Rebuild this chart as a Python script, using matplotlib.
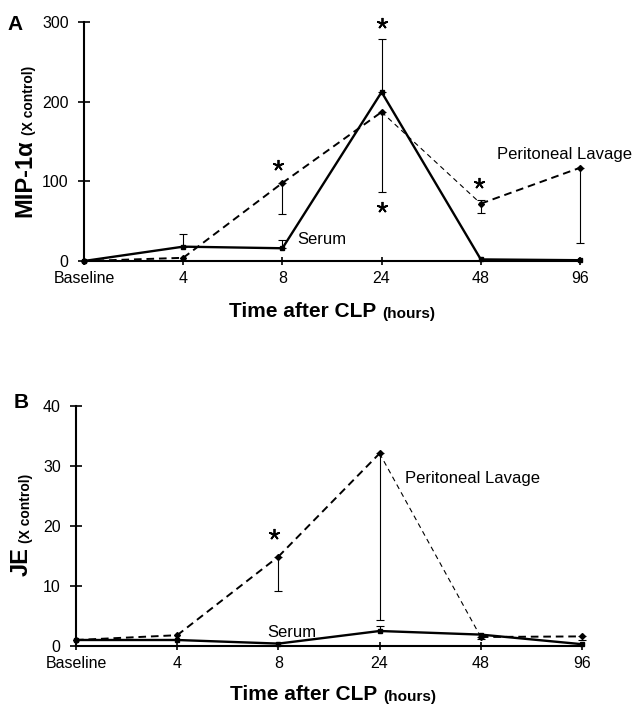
import numpy as np
import matplotlib
matplotlib.use("Agg")
import matplotlib.pyplot as plt

plt.rcParams["font.family"] = ["Liberation Sans", "DejaVu Sans"]
plt.rcParams["lines.scale_dashes"] = False

# ---- data ----
time_labels = ["Baseline", "4", "8", "24", "48", "96"]

# panel A: MIP-1alpha (x control)
mip_serum = [0, 18, 16, 212, 2, 1]
mip_serum_up = [0, 16, 10, 67, 0, 0]
mip_lavage = [0, 4, 98, 187, 72, 117]
mip_lavage_down = [0, 0, 39, 100, 12, 95]
mip_lavage_up = [0, 0, 0, 0, 4, 0]
mip_stars_x = [1.96, 3.0, 3.0, 3.98]
mip_stars_y = [121, 299, 68, 98]

# panel B: JE (x control)
je_serum = [1.0, 1.0, 0.4, 2.5, 1.9, 0.3]
je_serum_up = [0, 0, 0, 0.9, 0, 0]
je_lavage = [1.0, 1.8, 14.9, 32.1, 1.5, 1.6]
je_lavage_down = [0, 0, 5.7, 27.8, 0.3, 0.6]
je_lavage_up = [0, 0, 0, 0, 0, 0]
je_stars_x = [1.96]
je_stars_y = [18.6]

# dashed lavage line: bold dashes except the segment 24 -> 48 h
lavage_seg_lw = [1.4, 1.4, 1.4, 0.8, 1.4]

W, H = 636, 707
fig = plt.figure(figsize=(W / 100, H / 100), dpi=100)


def px_axes(left, right, top, bottom):
    return fig.add_axes([left / W, 1 - bottom / H, (right - left) / W, (bottom - top) / H])


def series(ax, mean, lo, hi, dashed, marker, ms):
    x = np.arange(len(mean))
    mean = np.asarray(mean, float)
    for i in range(len(mean) - 1):
        if dashed:
            lw = lavage_seg_lw[i]
            dash = (0, (5.5, 3.5)) if lw > 1 else (0, (3.6, 2.8))
            ax.plot(x[i:i + 2], mean[i:i + 2], color="k", lw=lw, ls=dash,
                    clip_on=False)
        else:
            ax.plot(x[i:i + 2], mean[i:i + 2], color="k", lw=1.7,
                    solid_capstyle="round", clip_on=False)
    ax.plot(x, mean, ls="none", marker=marker, ms=ms, color="k", clip_on=False)
    lo = np.asarray(lo, float)
    hi = np.asarray(hi, float)
    m = (lo > 0) | (hi > 0)
    eb = ax.errorbar(x[m], mean[m], yerr=[lo[m], hi[m]], fmt="none", ecolor="k",
                     elinewidth=0.8, capsize=2.6, capthick=0.8)
    for art in eb.lines[1] + eb.lines[2]:
        art.set_clip_on(False)


def style_axes(ax, ymax, yticks):
    ax.set_xlim(0, 5)
    ax.set_ylim(0, ymax)
    ax.set_xticks(range(len(time_labels)))
    ax.set_xticklabels(time_labels)
    ax.set_yticks(yticks)
    for s in ("top", "right"):
        ax.spines[s].set_visible(False)
    for s in ("left", "bottom"):
        ax.spines[s].set_linewidth(1.5)
    ax.tick_params(axis="y", direction="inout", length=9, width=1.2, pad=6.5,
                   labelsize=11.5)
    ax.tick_params(axis="x", direction="inout", length=6, width=1.2, pad=4,
                   labelsize=11.5)
    ax.patch.set_alpha(0)


def stars(ax, xs, ys):
    ax.plot(xs, ys, ls="none", marker=(5, 2, 0), ms=8, mew=1.3, color="k",
            clip_on=False)


def two_part(ax, big, small, big_size, small_size, anchor_px, vertical):
    if vertical:
        t1 = fig.text(anchor_px / W, 0.5, big, rotation=90, rotation_mode="anchor",
                      ha="left", va="bottom", fontsize=big_size, fontweight="bold")
        t2 = ax.annotate(small, xy=(1, 1), xycoords=t1, xytext=(0, 3),
                         textcoords="offset points", rotation=90,
                         rotation_mode="anchor", ha="left", va="bottom",
                         fontsize=small_size, fontweight="bold")
    else:
        t1 = fig.text(0.5, 1 - anchor_px / H, big, ha="left", va="baseline",
                      fontsize=big_size, fontweight="bold")
        t2 = ax.annotate(small, xy=(1, 0), xycoords=t1, xytext=(4, 0),
                         textcoords="offset points", ha="left", va="bottom",
                         fontsize=small_size, fontweight="bold")
    return t1, t2


def center_label(t1, t2, center_px, vertical):
    fig.canvas.draw()
    b1 = t1.get_window_extent()
    b2 = t2.get_window_extent()
    x, y = t1.get_position()
    if vertical:
        mid = (min(b1.y0, b2.y0) + max(b1.y1, b2.y1)) / 2
        t1.set_position((x, y + ((H - center_px) - mid) / H))
    else:
        mid = (min(b1.x0, b2.x0) + max(b1.x1, b2.x1)) / 2
        t1.set_position((x + (center_px - mid) / W, y))


# ---------------- panel A ----------------
axA = px_axes(84, 580, 22, 261)
style_axes(axA, 300, [0, 100, 200, 300])
series(axA, mip_lavage, mip_lavage_down, mip_lavage_up, True, "D", 3)
series(axA, mip_serum, [0] * 6, mip_serum_up, False, "s", 3.5)
stars(axA, mip_stars_x, mip_stars_y)
axA.text(2.15, 27, "Serum", fontsize=12, va="center", ha="left")
axA.text(4.16, 134, "Peritoneal Lavage", fontsize=12, va="center", ha="left",
         clip_on=False)
fig.text(15 / W, 1 - 24 / H, "A", fontsize=15, fontweight="bold",
         ha="center", va="center")

# ---------------- panel B ----------------
axB = px_axes(76, 582, 406, 646)
style_axes(axB, 40, [0, 10, 20, 30, 40])
series(axB, je_lavage, je_lavage_down, je_lavage_up, True, "D", 3)
series(axB, je_serum, [0] * 6, je_serum_up, False, "s", 3.5)
stars(axB, je_stars_x, je_stars_y)
axB.text(1.89, 2.3, "Serum", fontsize=12, va="center", ha="left")
axB.text(3.25, 28, "Peritoneal Lavage", fontsize=12, va="center", ha="left")
fig.text(21 / W, 1 - 403 / H, "B", fontsize=15, fontweight="bold",
         ha="center", va="center")

# axis titles with two font sizes
labels = []
for ax, big, x_px, c_px in [(axA, "MIP-1\u03b1", 36, 141.5), (axB, "JE", 33, 525)]:
    t1, t2 = two_part(ax, big, "(X control)", 17, 10, x_px, True)
    labels.append((t1, t2, c_px, True))
for ax, base_px, c_px in [(axA, 316.5, 332), (axB, 700.5, 333)]:
    t1, t2 = two_part(ax, "Time after CLP", "(hours)", 15, 11, base_px, False)
    labels.append((t1, t2, c_px, False))
for t1, t2, c_px, vertical in labels:
    center_label(t1, t2, c_px, vertical)

fig.savefig("out.png", dpi=100)
